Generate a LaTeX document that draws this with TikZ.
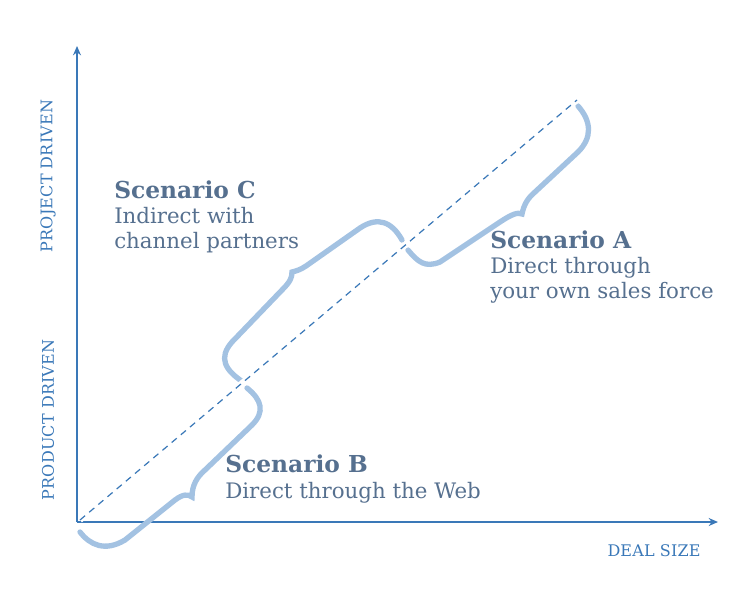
\documentclass[tikz,border=0pt]{standalone}
\usepackage{fontspec}
\setmainfont{DejaVu Serif}
\usetikzlibrary{arrows.meta}
\definecolor{ax}{HTML}{3A78B8}
\definecolor{br}{HTML}{A3C2E2}
\definecolor{tx}{HTML}{56708F}
\newcommand{\ttl}[1]{{\fontsize{17.5}{19}\selectfont\textbf{#1}}}
\tikzset{brace/.style={br,line width=4pt,line cap=round},
 lbl/.style={text=tx,anchor=west,align=left,font=\fontsize{16}{19}\selectfont,inner sep=0pt},
 axl/.style={text=ax,font=\fontsize{12}{14}\selectfont\addfontfeature{LetterSpace=1}}}
\begin{document}
\begin{tikzpicture}[x=0.75pt,y=-0.75pt]
\useasboundingbox (0,0) rectangle (756,600);
\coordinate (O) at (77,522);
\coordinate (Y) at (77,46);
\coordinate (X) at (718,522);
\coordinate (D0) at (80,520);
\coordinate (D1) at (577,100);
\draw[ax,line width=1.2pt,-{Stealth[length=7pt,width=6pt]}] (O) -- (Y);
\draw[ax,line width=1.2pt,-{Stealth[length=7pt,width=6pt]}] (O) -- (X);
% braces
\draw[brace] (80,532) .. controls (90,545) and (105,552) .. (125,540) -- (175,500) .. controls (183,494) and (188,494) .. (192,497) .. controls (192,485) and (197,477) .. (205,470) -- (252,425) .. controls (265,412) and (262,400) .. (247,388);
\draw[brace] (243,382) .. controls (225,370) and (218,358) .. (232,342) -- (282,290) .. controls (290,282) and (292,278) .. (292,272) .. controls (296,271) and (300,270) .. (306,266) -- (360,228) .. controls (378,216) and (392,222) .. (402,240);
\draw[brace] (408,250) .. controls (418,262) and (425,268) .. (440,262) -- (500,222) .. controls (512,214) and (518,212) .. (522,214) .. controls (524,204) and (528,198) .. (535,192) -- (578,152) .. controls (592,138) and (592,122) .. (578,106);
\draw[white,line width=4.5pt] (D0) -- (D1);
\draw[ax,line width=0.9pt,dash pattern=on 5pt off 4pt] (D0) -- (D1);
% labels
\node[lbl] (c) at (114,217) {\ttl{Scenario C}\\Indirect with\\channel partners};
\node[lbl] (a) at (490,267) {\ttl{Scenario A}\\Direct through\\your own sales force};
\node[lbl] (b) at (225,479) {\ttl{Scenario B}\\Direct through the Web};
\node[axl,rotate=90] (p1) at (48,176) {PROJECT DRIVEN};
\node[axl,rotate=90] (p2) at (48,420) {PRODUCT DRIVEN};
\node[axl] (d) at (654,551) {DEAL SIZE};
\end{tikzpicture}
\end{document}
